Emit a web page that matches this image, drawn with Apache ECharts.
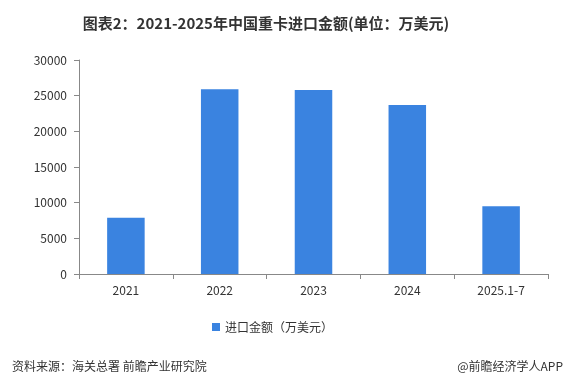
<!DOCTYPE html>
<html><head><meta charset="utf-8">
<script src="https://cdn.jsdelivr.net/npm/echarts@6/dist/echarts.min.js"></script>
<style>html,body{margin:0;padding:0;background:#fff}#c{width:570px;height:385px}</style>
</head><body><div id="c"></div>
<script>
const categories = ['2021', '2022', '2023', '2024', '2025.1-7'];
const values = [7900, 25900, 25800, 23700, 9500];
const yTicks = [0, 5000, 10000, 15000, 20000, 25000, 30000];
const seriesName = '进口金额（万美元）';

const chart = echarts.init(document.getElementById('c'));
const font = '"Microsoft YaHei","Noto Sans CJK SC",sans-serif';
chart.setOption({
  animation: false,
  textStyle: { fontFamily: font },
  title: [
    { text: '图表2：2021-2025年中国重卡进口金额(单位：万美元)', left: 261, top: 11, textAlign: 'center',
      textStyle: { fontSize: 15, fontWeight: 'bold', color: '#333', fontFamily: font } },
    { text: '资料来源：海关总署 前瞻产业研究院', left: 7, top: 355,
      textStyle: { fontSize: 12, fontWeight: 'normal', color: '#333', fontFamily: font } },
    { text: '@前瞻经济学人APP', right: 2, top: 355,
      textStyle: { fontSize: 12, fontWeight: 'normal', color: '#333', fontFamily: font } }
  ],
  legend: {
    data: [seriesName], left: 207, top: 316, itemWidth: 8, itemHeight: 8, itemGap: 4,
    icon: 'rect', textStyle: { fontSize: 12, color: '#333', fontFamily: font }
  },
  grid: { left: 79, right: 22, top: 60, bottom: 111 },
  xAxis: {
    type: 'category', data: categories,
    axisLine: { lineStyle: { color: '#888' } },
    axisTick: { show: true, length: 5, lineStyle: { color: '#888' } },
    axisLabel: { color: '#333', fontSize: 12, margin: 10 }
  },
  yAxis: {
    type: 'value', min: yTicks[0], max: yTicks[yTicks.length - 1], interval: 5000,
    axisLine: { show: true, lineStyle: { color: '#888' } },
    axisTick: { show: true, length: 5, lineStyle: { color: '#888' } },
    splitLine: { show: false },
    axisLabel: { color: '#333', fontSize: 12, margin: 12, formatter: v => String(v) }
  },
  series: [{
    name: seriesName, type: 'bar', data: values, barWidth: '40%',
    itemStyle: { color: '#3a83e0' }
  }]
});
</script></body></html>
